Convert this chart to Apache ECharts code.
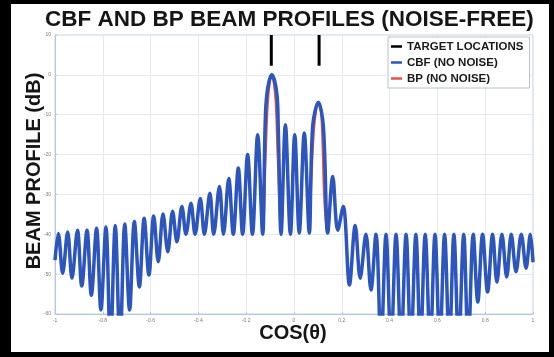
<!DOCTYPE html>
<html>
<head>
<meta charset="utf-8">
<script src="https://cdn.jsdelivr.net/npm/echarts@6/dist/echarts.min.js"></script>
<style>
  html, body { margin: 0; padding: 0; background: #ffffff; }
  #chart { width: 554px; height: 357px; }
</style>
</head>
<body>
<div id="chart"></div>
<script>
// Beam profiles in dB against cos(theta); points are [cos(theta), dB] at lobe peaks and nulls.
const farLeftLobes = [
  [-1.000, -46.5], [-0.986, -39.8], [-0.968, -49.8], [-0.947, -39.4], [-0.929, -51.0],
  [-0.906, -39.0], [-0.888, -53.0], [-0.866, -39.0], [-0.848, -55.3], [-0.826, -38.5],
  [-0.808, -59.0], [-0.787, -38.2], [-0.768, -68.0], [-0.748, -37.8], [-0.728, -68.0],
  [-0.708, -37.4], [-0.688, -59.0], [-0.668, -36.8], [-0.647, -53.2], [-0.627, -36.0],
  [-0.607, -50.2], [-0.587, -35.4], [-0.568, -46.9], [-0.548, -34.9], [-0.528, -44.4],
  [-0.508, -34.2], [-0.490, -41.9]
];
const innerLeftLobes = [
  [-0.469, -33.0], [-0.452, -40.0], [-0.431, -32.2], [-0.414, -40.0], [-0.392, -31.0],
  [-0.375, -40.0], [-0.352, -29.7], [-0.336, -40.0], [-0.312, -28.0], [-0.295, -40.0],
  [-0.273, -26.0], [-0.254, -40.0], [-0.233, -23.4], [-0.215, -40.0], [-0.194, -20.0],
  [-0.174, -40.0], [-0.152, -15.0], [-0.131, -40.0]
];
const mainLobeCbf = [
  [-0.121, -13.0], [-0.113, -4.6], [-0.093, 0.0], [-0.072, -4.6], [-0.066, -13.0]
];
const mainLobeBp = [
  [-0.118, -20.0], [-0.108, -6.0], [-0.093, 0.0], [-0.078, -6.0], [-0.069, -20.0]
];
const centreLobes = [
  [-0.054, -40.0], [-0.036, -12.5], [-0.015, -40.0], [0.003, -15.0], [0.022, -39.7],
  [0.043, -14.6], [0.064, -39.7]
];
const secondLobeCbf = [
  [0.078, -13.0], [0.102, -6.9], [0.123, -13.0]
];
const secondLobeBp = [
  [0.072, -28.0], [0.085, -13.0], [0.102, -6.9], [0.114, -10.0], [0.127, -32.0]
];
const rightLobes = [
  [0.141, -39.7], [0.162, -25.5], [0.183, -39.0], [0.206, -33.0], [0.232, -52.7],
  [0.256, -37.8], [0.277, -51.0], [0.301, -40.0], [0.322, -54.0], [0.343, -40.0],
  [0.364, -68.0], [0.385, -40.0], [0.406, -68.0], [0.427, -40.0], [0.448, -68.0],
  [0.469, -40.0], [0.489, -68.0], [0.510, -40.0], [0.529, -68.0], [0.549, -40.0],
  [0.570, -68.0], [0.590, -40.0], [0.610, -68.0], [0.630, -40.0], [0.650, -68.0],
  [0.669, -40.0], [0.689, -68.0], [0.710, -40.0], [0.729, -68.0], [0.750, -40.0],
  [0.769, -57.0], [0.789, -40.0], [0.810, -54.5], [0.831, -40.0], [0.849, -52.0],
  [0.870, -40.0], [0.890, -50.7], [0.909, -40.0], [0.929, -49.4], [0.951, -40.0],
  [0.971, -48.5], [0.989, -40.0], [1.000, -47.0]
];
// Target directions and the dB span of their marker lines
const targetLocations = [-0.095, 0.105];
const targetSpan = [2.3, 10];

const cbfData = [].concat(farLeftLobes, innerLeftLobes, mainLobeCbf, centreLobes, secondLobeCbf, rightLobes);
const bpData = [].concat(farLeftLobes, innerLeftLobes, mainLobeBp, centreLobes, secondLobeBp, rightLobes);
const targetData = [];
targetLocations.forEach(function (u, i) {
  if (i > 0) targetData.push([u, null]);
  targetData.push([u, targetSpan[0]], [u, targetSpan[1]]);
});

const FONT = '"Liberation Sans", Arial, sans-serif';
const chart = echarts.init(document.getElementById('chart'), null, { renderer: 'canvas' });

const tickLabel = { fontSize: 5, color: '#7a7a7a', fontFamily: FONT };
const gridLine = { show: true, lineStyle: { color: '#e4eaf0', width: 1 } };
const axisLine = { show: true, onZero: false, lineStyle: { color: '#b3c8dc' } };
const axisTick = { show: true, inside: true, length: 2, lineStyle: { color: '#b3c8dc' } };

chart.setOption({
  backgroundColor: '#ffffff',
  animation: false,
  title: {
    text: 'CBF AND BP BEAM PROFILES (NOISE-FREE)',
    left: 40, top: 3,
    textStyle: { fontFamily: FONT, fontWeight: 'bold', fontSize: 22.5, color: '#151515' }
  },
  grid: {
    left: 55, right: 21, top: 35, bottom: 43,
    show: true, borderColor: '#c3d3e2', borderWidth: 1
  },
  legend: {
    data: ['TARGET LOCATIONS', 'CBF (NO NOISE)', 'BP (NO NOISE)'],
    orient: 'vertical',
    left: 388, top: 37,
    padding: [3, 6, 3, 3],
    itemGap: 3,
    itemWidth: 11, itemHeight: 2.5,
    icon: 'rect',
    backgroundColor: '#ffffff',
    borderColor: '#b8c2cc', borderWidth: 1,
    textStyle: { fontFamily: FONT, fontWeight: 'bold', fontSize: 11.5, color: '#1a1a1a', lineHeight: 13 }
  },
  xAxis: {
    type: 'value', min: -1, max: 1, interval: 0.2,
    axisLine: axisLine,
    axisTick: axisTick,
    axisLabel: Object.assign({ margin: 4 }, tickLabel),
    splitLine: gridLine
  },
  yAxis: {
    type: 'value', min: -60, max: 10, interval: 10,
    axisLine: axisLine,
    axisTick: axisTick,
    axisLabel: Object.assign({ margin: 4 }, tickLabel),
    splitLine: gridLine
  },
  graphic: [
    // black frame round the figure
    { type: 'rect', shape: { x: 0, y: 0, width: 11, height: 357 }, style: { fill: '#000' }, z: 100 },
    { type: 'rect', shape: { x: 0, y: 0, width: 554, height: 4 }, style: { fill: '#000' }, z: 100 },
    { type: 'rect', shape: { x: 549, y: 0, width: 5, height: 357 }, style: { fill: '#000' }, z: 100 },
    { type: 'rect', shape: { x: 0, y: 352, width: 554, height: 5 }, style: { fill: '#000' }, z: 100 },
    // axis titles
    {
      type: 'text', x: 34, y: 171, rotation: Math.PI / 2,
      style: { text: 'BEAM PROFILE (dB)', fontFamily: FONT, fontWeight: 'bold', fontSize: 20,
               fill: '#151515', align: 'center', verticalAlign: 'middle' }
    },
    {
      type: 'text', x: 293, y: 333,
      style: { text: 'COS(θ)', fontFamily: FONT, fontWeight: 'bold', fontSize: 20,
               fill: '#151515', align: 'center', verticalAlign: 'middle' }
    }
  ],
  series: [
    {
      name: 'TARGET LOCATIONS', type: 'line', data: targetData, showSymbol: false,
      connectNulls: false, lineStyle: { color: '#000000', width: 3 }, itemStyle: { color: '#000000' }, z: 5
    },
    {
      name: 'BP (NO NOISE)', type: 'line', data: bpData, showSymbol: false, smooth: 0.35,
      lineStyle: { color: '#e5534b', width: 2 }, itemStyle: { color: '#e5534b' }, z: 2
    },
    {
      name: 'CBF (NO NOISE)', type: 'line', data: cbfData, showSymbol: false, smooth: 0.35,
      lineStyle: { color: '#2c56bd', width: 3.5 }, itemStyle: { color: '#2c56bd' }, z: 3
    }
  ]
});
</script>
</body>
</html>
